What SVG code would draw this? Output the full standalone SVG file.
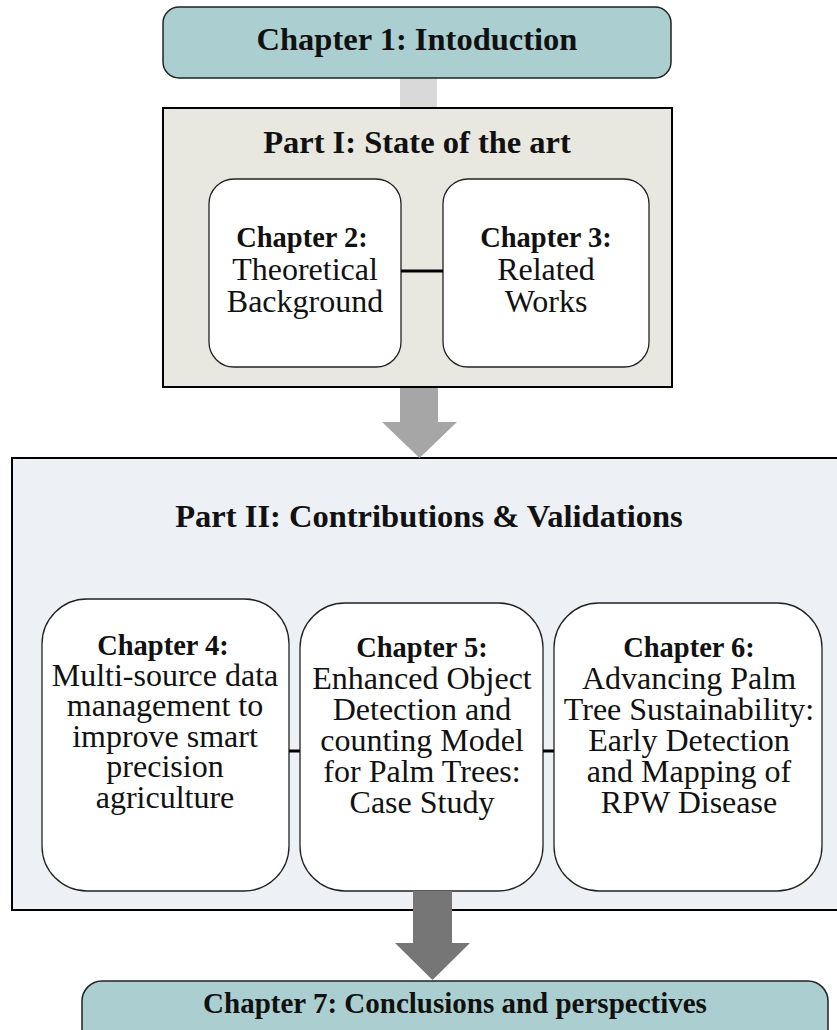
<svg xmlns="http://www.w3.org/2000/svg" width="837" height="1030" viewBox="0 0 837 1030">
<style>
text{font-family:"Liberation Serif","Times New Roman",serif;fill:#111;text-anchor:middle}
.b{font-weight:bold}
.t{font-size:32.5px;font-weight:bold}
.h{font-size:28.5px;font-weight:bold}
.r{font-size:32px}
.inner{fill:#fff;stroke:#222;stroke-width:1.3}
.chap{fill:#abcfd0;stroke:#222;stroke-width:1.5}
.link{stroke:#000;stroke-width:3}
</style>
<rect width="837" height="1030" fill="#fff"/>
<g id="connectors-back">
<rect x="400" y="76" width="37" height="34" fill="#d9d9d9"/>
</g>
<g id="chapter1">
<rect class="chap" x="163" y="7" width="508" height="71" rx="16"/>
<text class="t" x="417" y="50">Chapter 1: Intoduction</text>
</g>
<g id="part1">
<rect x="163" y="108" width="509" height="279" fill="#e8e8e0" stroke="#000" stroke-width="2"/>
<text class="t" x="417" y="153">Part I: State of the art</text>
</g>
<g id="chapter2">
<rect class="inner" x="209" y="179" width="192" height="188" rx="25"/>
<text class="h" x="302" y="247">Chapter 2:</text>
<text class="r" x="305" y="280">Theoretical</text>
<text class="r" x="305" y="312">Background</text>
</g>
<g id="chapter3">
<rect class="inner" x="443" y="179" width="206" height="188" rx="25"/>
<text class="h" x="546" y="247">Chapter 3:</text>
<text class="r" x="546" y="280">Related</text>
<text class="r" x="546" y="312">Works</text>
</g>
<g id="part2">
<rect x="12" y="458" width="840" height="452" fill="#edf0f5" stroke="#000" stroke-width="2"/>
<text class="t" x="429" y="527">Part II: Contributions &amp; Validations</text>
</g>
<g id="chapter4">
<rect class="inner" x="42" y="599" width="247" height="292" rx="45"/>
<text class="h" x="163" y="655">Chapter 4:</text>
<text class="r" x="165" y="686">Multi-source data</text>
<text class="r" x="165" y="716">management to</text>
<text class="r" x="165" y="747">improve smart</text>
<text class="r" x="165" y="777">precision</text>
<text class="r" x="165" y="808">agriculture</text>
</g>
<g id="chapter5">
<rect class="inner" x="300" y="603" width="243" height="288" rx="45"/>
<text class="h" x="422" y="657">Chapter 5:</text>
<text class="r" x="422" y="689">Enhanced Object</text>
<text class="r" x="422" y="720">Detection and</text>
<text class="r" x="422" y="751">counting Model</text>
<text class="r" x="422" y="782">for Palm Trees:</text>
<text class="r" x="422" y="813">Case Study</text>
</g>
<g id="chapter6">
<rect class="inner" x="554" y="603" width="268" height="288" rx="45"/>
<text class="h" x="689" y="657">Chapter 6:</text>
<text class="r" x="689" y="689">Advancing Palm</text>
<text class="r" x="689" y="720">Tree Sustainability:</text>
<text class="r" x="689" y="751">Early Detection</text>
<text class="r" x="689" y="782">and Mapping of</text>
<text class="r" x="689" y="813">RPW Disease</text>
</g>
<g id="connectors">
<line class="link" x1="401" y1="271" x2="443" y2="271"/>
<line class="link" x1="289" y1="751" x2="300" y2="751"/>
<line class="link" x1="543" y1="751" x2="554" y2="751"/>
<polygon points="400,388 438,388 438,422 457,422 419.5,458 382,422 400,422" fill="#a6a6a6"/>
<polygon points="413,891 452,891 452,943 470,943 432.5,980 395,943 413,943" fill="#767676"/>
</g>
<g id="chapter7">
<rect class="chap" x="82" y="981" width="746" height="70" rx="20"/>
<text class="b" style="font-size:29px" x="455" y="1013">Chapter 7: Conclusions and perspectives</text>
</g>
</svg>
